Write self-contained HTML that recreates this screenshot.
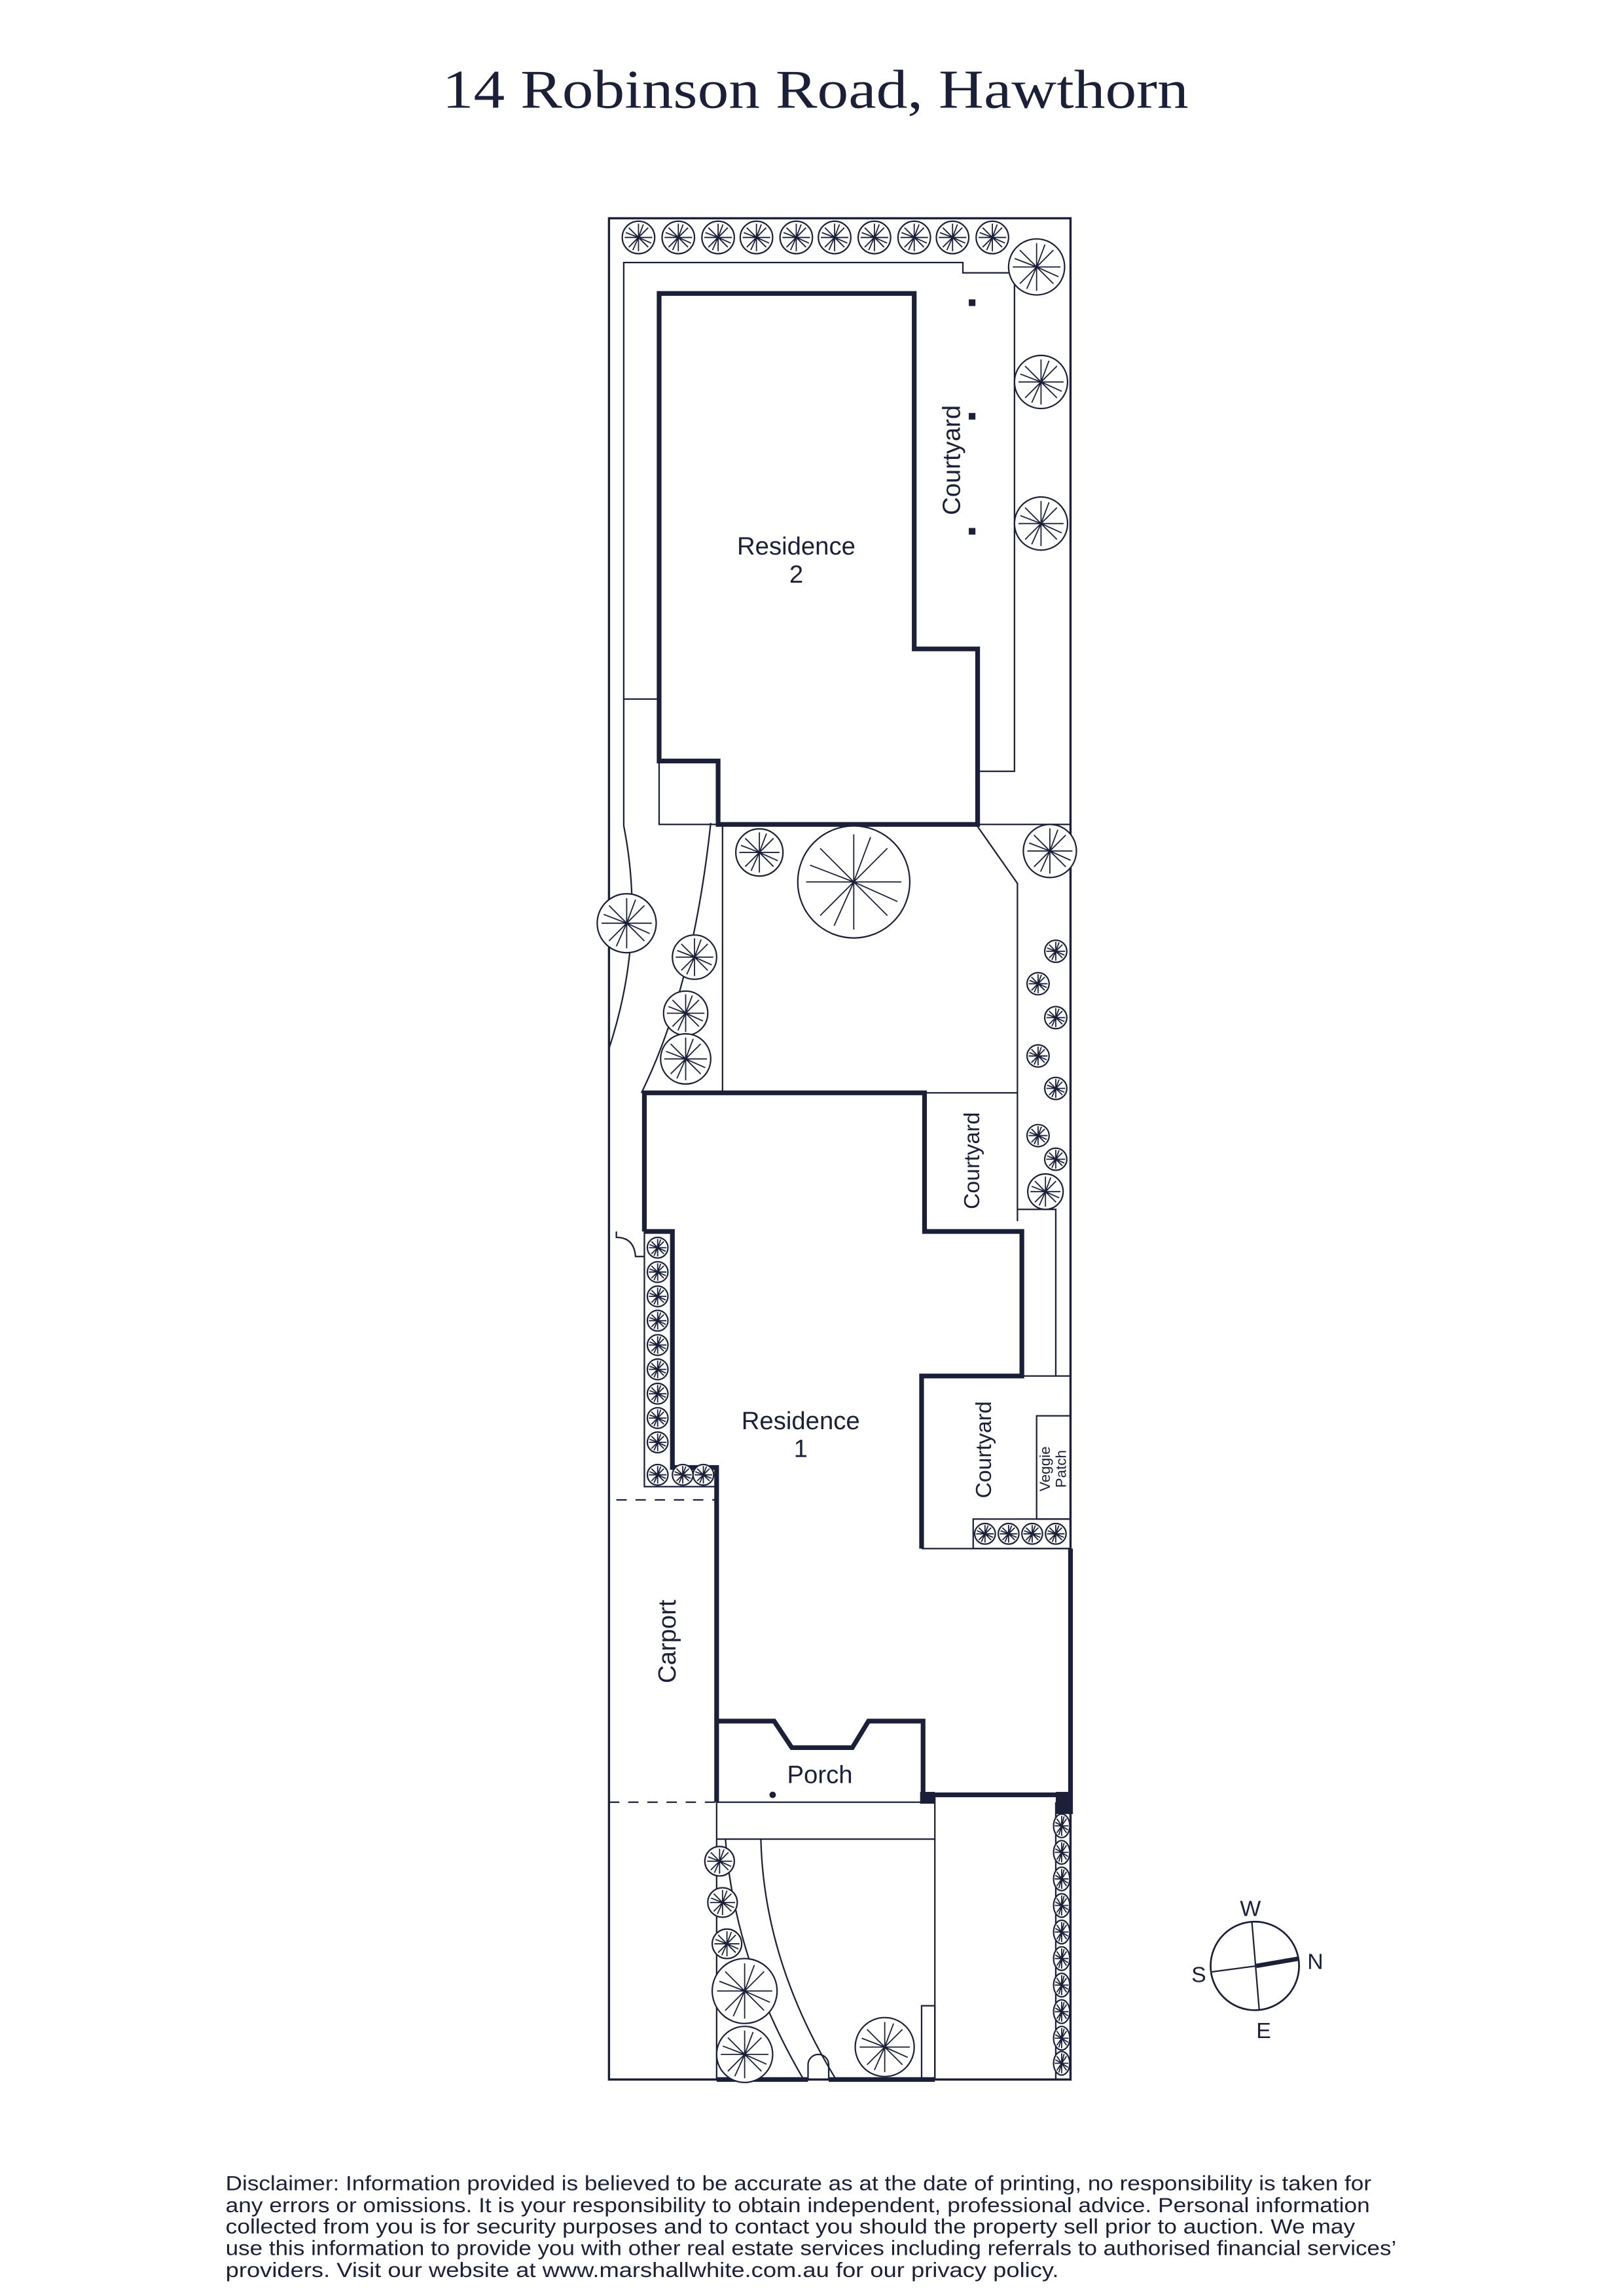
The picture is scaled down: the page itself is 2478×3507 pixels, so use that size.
<!DOCTYPE html>
<html><head><meta charset="utf-8"><style>
html,body{margin:0;padding:0;background:#fff}
svg{display:block}
text{font-family:"Liberation Sans",sans-serif;fill:#1b2038}
</style></head><body>
<svg width="2478" height="3507" viewBox="0 0 1100 1556.8" xmlns="http://www.w3.org/2000/svg">
<defs>
<g id="t">
<circle r="1" fill="#fff" stroke="#1b2038" stroke-width="2.2" vector-effect="non-scaling-stroke"/>
<path d="M0 0L0 -0.85M0 0L0.6 -0.6M0 0L0.85 0M0 0L0.6 0.6M0 0L0 0.85M0 0L-0.6 0.6M0 0L-0.85 0M0 0L-0.6 -0.6M0 0L0.3 -0.8M0 0L-0.35 0.78M0 0L0.78 0.35M0 0L-0.78 -0.3" stroke="#1b2038" stroke-width="1.8" vector-effect="non-scaling-stroke" fill="none"/>
</g>
</defs>
<rect width="1100" height="1556.8" fill="#fff"/>
<text x="553" y="73" text-anchor="middle" style="font-family:'Liberation Serif',serif" font-size="37" textLength="506" lengthAdjust="spacingAndGlyphs">14 Robinson Road, Hawthorn</text>

<g fill="none" stroke="#1b2038" stroke-width="1">
<rect x="413" y="148" width="313" height="1262" stroke-width="1.5"/>
<path d="M423 560 L423 178 L653 178 L653 185 L688 185 L688 523 L663 523"/>
<path d="M423 474 L447 474"/>
<path d="M447 516 L447 559 L487 559"/>
<path d="M423 560 Q438 635 413 711"/>
<path d="M482 558 Q470 670 435 741"/>
<path d="M490 559 L490 741"/>
<path d="M663 559 L726 559"/>
<path d="M662 559 L690 599 L690 828"/>
<path d="M627 741 L690 741"/>
<path d="M690 820 L716 820 L716 933"/>
<path d="M693 933 L726 933"/>
<rect x="703" y="960" width="23" height="70"/>
<rect x="660" y="1030" width="66" height="20"/>
<path d="M625 1050 L726 1050"/>
<path d="M437 835 L437 1008 L486 1008"/>
<path d="M418 835 L418 839 Q430 839 431 852 L437 852"/>
<path d="M418 1017 L486 1017 M413 1222 L486 1222" stroke-dasharray="7 6"/>
<path d="M486 1222 L634 1222"/>
<path d="M486 1247 L634 1247"/>
<path d="M486 1222 L486 1410 M634 1217 L634 1410"/>
<path d="M492 1247 Q498 1330 545 1410"/>
<path d="M516 1247 Q518 1330 567 1410"/>
<path d="M548 1410 L548 1400 A7 7 0 0 1 562 1400 L562 1410" />
<rect x="625" y="1360" width="9" height="50"/>
<path d="M716 1222 L716 1410"/>
</g>

<g fill="none" stroke="#1b2038" stroke-width="3.2" stroke-linejoin="miter">
<path d="M447 199 L620 199 L620 440 L663 440 L663 559 L487 559 L487 516 L447 516 Z"/>
<path d="M437 835 L437 741 L627 741 L627 835 L693 835 L693 933 L625 933 L625 1050"/>
<path d="M437 835 L456 835 L456 995 L486 995 L486 1222"/>
<path d="M486 1167 L525 1167 L537 1185 L578 1185 L589 1167 L626 1167 L626 1217 L726 1217"/>
<path d="M726 1050 L726 1230"/>
<path d="M486 1410 L548 1410 M562 1410 L634 1410"/>
</g>
<rect x="624" y="1215" width="10" height="8" fill="#1b2038"/>
<rect x="716" y="1215" width="10" height="15" fill="#1b2038"/>
<rect x="657" y="203" width="4.5" height="4.5" fill="#1b2038"/>
<rect x="657" y="280" width="4.5" height="4.5" fill="#1b2038"/>
<rect x="657" y="358" width="4.5" height="4.5" fill="#1b2038"/>
<circle cx="524" cy="1217" r="2.2" fill="#1b2038"/>

<g>
<use href="#t" transform="translate(433,161) scale(11)"/>
<use href="#t" transform="translate(460,161) scale(11)"/>
<use href="#t" transform="translate(487,161) scale(11)"/>
<use href="#t" transform="translate(513,161) scale(11)"/>
<use href="#t" transform="translate(540,161) scale(11)"/>
<use href="#t" transform="translate(566,161) scale(11)"/>
<use href="#t" transform="translate(593,161) scale(11)"/>
<use href="#t" transform="translate(620,161) scale(11)"/>
<use href="#t" transform="translate(646,161) scale(11)"/>
<use href="#t" transform="translate(673,161) scale(11)"/>
<use href="#t" transform="translate(703,181) scale(19)"/>
<use href="#t" transform="translate(706,259) scale(18)"/>
<use href="#t" transform="translate(706,355) scale(18)"/>
<use href="#t" transform="translate(579,598) scale(38)"/>
<use href="#t" transform="translate(515,578) scale(16)"/>
<use href="#t" transform="translate(425,626) scale(20)"/>
<use href="#t" transform="translate(471,649) scale(15)"/>
<use href="#t" transform="translate(465,687) scale(15)"/>
<use href="#t" transform="translate(465,718) scale(17)"/>
<use href="#t" transform="translate(712,577) scale(18)"/>
<use href="#t" transform="translate(716,645) scale(7.5)"/>
<use href="#t" transform="translate(704,667) scale(7.5)"/>
<use href="#t" transform="translate(716,690) scale(7.5)"/>
<use href="#t" transform="translate(704,716) scale(7.5)"/>
<use href="#t" transform="translate(716,738) scale(7.5)"/>
<use href="#t" transform="translate(704,770) scale(7.5)"/>
<use href="#t" transform="translate(716,786) scale(7.5)"/>
<use href="#t" transform="translate(709,808) scale(12)"/>
</g>
<g>
<use href="#t" transform="translate(446,846) scale(7)"/>
<use href="#t" transform="translate(446,862.5) scale(7)"/>
<use href="#t" transform="translate(446,879) scale(7)"/>
<use href="#t" transform="translate(446,895.5) scale(7)"/>
<use href="#t" transform="translate(446,912) scale(7)"/>
<use href="#t" transform="translate(446,928.5) scale(7)"/>
<use href="#t" transform="translate(446,945) scale(7)"/>
<use href="#t" transform="translate(446,961.5) scale(7)"/>
<use href="#t" transform="translate(446,978) scale(7)"/>
<use href="#t" transform="translate(446,1000) scale(7)"/>
<use href="#t" transform="translate(463,1000) scale(7)"/>
<use href="#t" transform="translate(477,1000) scale(7)"/>
<use href="#t" transform="translate(668,1040) scale(7)"/>
<use href="#t" transform="translate(684,1040) scale(7)"/>
<use href="#t" transform="translate(700,1040) scale(7)"/>
<use href="#t" transform="translate(716,1040) scale(7)"/>
<use href="#t" transform="translate(488,1262) scale(10)"/>
<use href="#t" transform="translate(490,1290) scale(10)"/>
<use href="#t" transform="translate(493,1318) scale(10)"/>
<use href="#t" transform="translate(505,1350) scale(22)"/>
<use href="#t" transform="translate(505,1393) scale(19)"/>
<use href="#t" transform="translate(600,1388) scale(20)"/>
</g>
<g>
<use href="#t" transform="translate(720,1238) scale(5.5,8)"/>
<use href="#t" transform="translate(720,1256) scale(5.5,8)"/>
<use href="#t" transform="translate(720,1274) scale(5.5,8)"/>
<use href="#t" transform="translate(720,1292) scale(5.5,8)"/>
<use href="#t" transform="translate(720,1310) scale(5.5,8)"/>
<use href="#t" transform="translate(720,1328) scale(5.5,8)"/>
<use href="#t" transform="translate(720,1346) scale(5.5,8)"/>
<use href="#t" transform="translate(720,1364) scale(5.5,8)"/>
<use href="#t" transform="translate(720,1382) scale(5.5,8)"/>
<use href="#t" transform="translate(720,1399) scale(5.5,8)"/>
</g>

<g font-size="17" text-anchor="middle">
<text x="540" y="376">Residence</text>
<text x="540" y="395">2</text>
<text x="543" y="969">Residence</text>
<text x="543" y="988">1</text>
<text x="556" y="1209">Porch</text>
<text transform="translate(651,312) rotate(-90)">Courtyard</text>
<text transform="translate(664,787) rotate(-90)" font-size="15">Courtyard</text>
<text transform="translate(672,983) rotate(-90)" font-size="15">Courtyard</text>
<text transform="translate(458,1113) rotate(-90)">Carport</text>
<text transform="translate(712,996) rotate(-90)" font-size="10">Veggie</text>
<text transform="translate(723,996) rotate(-90)" font-size="10">Patch</text>
</g>

<g stroke="#1b2038" fill="none">
<circle cx="851" cy="1333" r="30" stroke-width="1.2"/>
<path d="M849 1303 L854 1363" stroke-width="1"/>
<path d="M822 1337 L852 1333" stroke-width="1"/>
<path d="M852 1333 L881 1328" stroke-width="3"/>
</g>
<g font-size="15" text-anchor="middle">
<text x="848" y="1299">W</text>
<text x="813" y="1344">S</text>
<text x="892" y="1335">N</text>
<text x="857" y="1382">E</text>
</g>

<g font-size="14" fill="#1b2038">
<text x="153" y="1485" textLength="777" lengthAdjust="spacingAndGlyphs">Disclaimer: Information provided is believed to be accurate as at the date of printing, no responsibility is taken for</text>
<text x="153" y="1500" textLength="776" lengthAdjust="spacingAndGlyphs">any errors or omissions. It is your responsibility to obtain independent, professional advice. Personal information</text>
<text x="153" y="1514.5" textLength="766" lengthAdjust="spacingAndGlyphs">collected from you is for security purposes and to contact you should the property sell prior to auction. We may</text>
<text x="153" y="1529" textLength="794" lengthAdjust="spacingAndGlyphs">use this information to provide you with other real estate services including referrals to authorised financial services’</text>
<text x="153" y="1544" textLength="565" lengthAdjust="spacingAndGlyphs">providers. Visit our website at www.marshallwhite.com.au for our privacy policy.</text>
</g>
</svg>
</body></html>
